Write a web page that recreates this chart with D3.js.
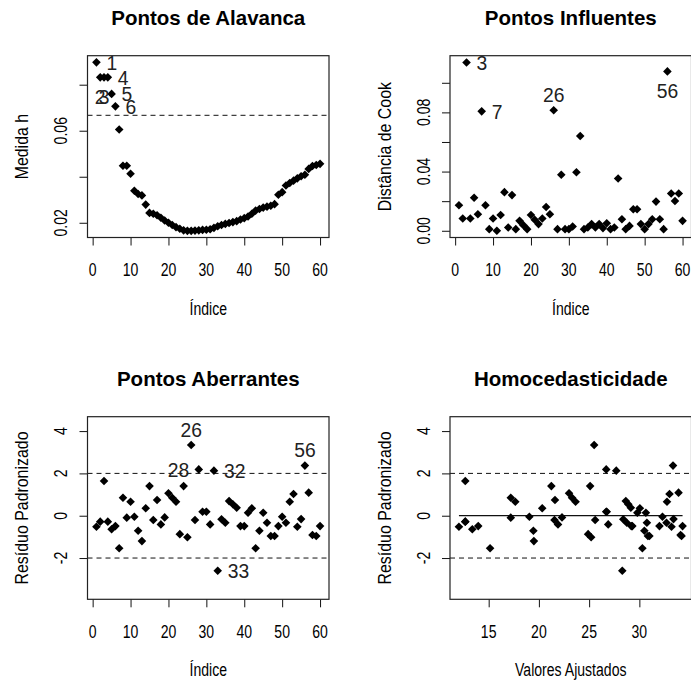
<!DOCTYPE html>
<html><head><meta charset="utf-8">
<script src="https://cdn.jsdelivr.net/npm/d3@7/dist/d3.min.js"></script>
<style>body{margin:0;background:#fff}svg{display:block}</style>
</head><body>
<svg id="c" width="691" height="687"></svg>
<script>
// ---------------- DATA ----------------
const index = [1,2,3,4,5,6,7,8,9,10,11,12,13,14,15,16,17,18,19,20,21,22,23,24,25,26,27,28,29,30,
  31,32,33,34,35,36,37,38,39,40,41,42,43,44,45,46,47,48,49,50,51,52,53,54,55,56,57,58,59,60];
const leverage = [0.0897,0.0832,0.0832,0.0832,0.0760,0.0706,0.0605,0.0448,0.0448,0.0413,
  0.0339,0.0325,0.0319,0.0279,0.0243,0.0239,0.0233,0.0222,0.0210,0.0200,
  0.0190,0.0181,0.0174,0.0167,0.0165,0.0165,0.0166,0.0167,0.0169,0.0170,
  0.0172,0.0178,0.0185,0.0190,0.0195,0.0199,0.0203,0.0207,0.0214,0.0220,
  0.0227,0.0239,0.0253,0.0260,0.0266,0.0270,0.0274,0.0281,0.0322,0.0333,
  0.0362,0.0373,0.0383,0.0393,0.0402,0.0409,0.0434,0.0447,0.0451,0.0456];
const cooksD = [0.0172,0.0083,0.1137,0.0083,0.0223,0.0112,0.0807,0.0172,0.0011,0.0083,
  0.0000,0.0107,0.0261,0.0022,0.0241,0.0011,0.0067,0.0038,0.0011,0.0107,
  0.0074,0.0045,0.0083,0.0161,0.0112,0.0814,0.0011,0.0379,0.0011,0.0011,
  0.0029,0.0395,0.0640,0.0011,0.0022,0.0045,0.0022,0.0045,0.0018,0.0051,
  0.0011,0.0022,0.0353,0.0078,0.0011,0.0033,0.0145,0.0145,0.0045,0.0011,
  0.0045,0.0078,0.0197,0.0078,0.0011,0.1077,0.0252,0.0201,0.0252,0.0067];
const stdResid = [-0.52,-0.28,1.64,-0.28,-0.64,-0.49,-1.54,0.85,-0.09,0.66,
  -0.05,-0.71,-1.20,0.35,1.40,-0.20,0.74,-0.41,-0.08,1.06,
  0.85,0.66,-0.87,1.40,-1.02,3.34,-0.20,2.19,0.19,0.19,
  -0.41,2.13,-2.60,-0.17,-0.33,0.69,0.54,0.38,-0.49,-0.49,
  0.14,0.35,-1.54,-0.71,0.14,-0.33,-0.96,-0.96,-0.49,-0.05,
  -0.33,0.66,1.03,-0.52,-0.16,2.37,1.09,-0.91,-0.96,-0.49];
const fitted = [12.04,12.67,12.67,12.67,13.37,13.96,15.14,17.20,17.20,17.65,
  19.05,19.45,19.50,20.33,21.24,21.55,21.60,21.90,22.30,23.00,
  23.30,23.65,24.90,25.10,25.20,25.50,25.60,26.70,26.70,26.75,
  26.90,27.70,28.30,28.40,28.75,28.65,28.90,29.15,29.20,29.30,
  29.80,30.05,30.30,30.50,30.65,30.75,30.85,31.00,32.00,32.30,
  32.70,32.75,33.00,33.20,33.40,33.35,33.90,34.10,34.20,34.30];
const leverageCut = 0.0667;
const residLimits = [-2, 2];
const indexTicks = [0,10,20,30,40,50,60];
const levTicks = [0.02,0.04,0.06,0.08];
const levTickLabels = ["0.02","","0.06",""];
const cookTicks = [0,0.02,0.04,0.06,0.08,0.10];
const cookTickLabels = ["0.00","","0.04","","0.08",""];
const residTicks = [-2,0,2,4];
const residTickLabels = ["-2","0","2","4"];
const fittedTicks = [15,20,25,30];
const fittedTickLabels = ["15","20","25","30"];
// labelled observations (id, R-style position: 1 below, 2 left, 3 above, 4 right)
const levLabelIds = [1,2,3,4,5,6];   const levLabelPos = [4,1,1,4,4,4];
const cookLabelIds = [3,7,26,56];    const cookLabelPos = [4,4,3,1];
const residLabelIds = [26,28,32,33,56]; const residLabelPos = [3,2,4,4,3];

// ---------------- LAYOUT ----------------
const svg = d3.select("#c");
const col = [{l:87.5,r:329},{l:450,r:691.5}];
const row = [{t:55.7,b:237.5},{t:416.7,b:599.3}];
const F = "'Liberation Sans', Arial, sans-serif";

function txt(g, s, x, y, o) {
  o = o || {};
  const t = g.append("text").text(s)
    .attr("transform", `translate(${x},${y}) rotate(${o.rot||0}) scale(${o.sx||1},1)`)
    .attr("font-family", F).attr("font-size", o.fs||19)
    .attr("font-weight", o.bold ? "bold" : "normal")
    .attr("text-anchor", o.anchor||"middle")
    .attr("fill", o.fill||"#000");
  return t;
}
const diamond = "M0,-4.3L4.3,0L0,4.3L-4.3,0Z";

function panel(ci, ri, xs, ys, opt) {
  const L = col[ci].l, R = col[ci].r, T = row[ri].t, B = row[ri].b;
  const x = d3.scaleLinear().domain(xs).range([L, R]);
  const y = d3.scaleLinear().domain(ys).range([B, T]);
  const g = svg.append("g");
  const cx = (L + R) / 2, cy = (T + B) / 2;
  // title
  txt(g, opt.title, cx, T - 30.5, {fs:20.5, bold:true});
  // x axis
  const xa = g.append("g").attr("transform", `translate(0,${B})`)
    .call(d3.axisBottom(x).tickValues(opt.xTicks).tickFormat(() => "").tickSize(8).tickSizeOuter(0));
  xa.select(".domain").remove();
  xa.selectAll("line").attr("stroke", "#111");
  opt.xTicks.forEach((v, k) => txt(g, opt.xTickLabels[k], x(v), B + 38.5, {fs:19, sx:0.74}));
  txt(g, opt.xLabel, cx, B + 77, {fs:19, sx:0.74});
  // y axis
  const ya = g.append("g").attr("transform", `translate(${L},0)`)
    .call(d3.axisLeft(y).tickValues(opt.yTicks).tickFormat(() => "").tickSize(8).tickSizeOuter(0));
  ya.select(".domain").remove();
  ya.selectAll("line").attr("stroke", "#111");
  opt.yTicks.forEach((v, k) => { if (opt.yTickLabels[k]) txt(g, opt.yTickLabels[k], L - 20.5, y(v), {fs:19, sx:0.74, rot:-90}); });
  txt(g, opt.yLabel, L - 59.2, cy, {fs:18.5, sx:0.86, rot:-90});
  // reference lines
  (opt.dashed || []).forEach(v => g.append("line")
    .attr("x1", L).attr("x2", R).attr("y1", y(v)).attr("y2", y(v))
    .attr("stroke", "#111").attr("stroke-width", 1).attr("stroke-dasharray", "5,4"));
  if (opt.solid) g.append("line")
    .attr("x1", x(opt.solid[0])).attr("x2", x(opt.solid[1])).attr("y1", y(0)).attr("y2", y(0))
    .attr("stroke", "#111").attr("stroke-width", 1.3);
  // box
  g.append("rect").attr("x", L).attr("y", T).attr("width", R - L).attr("height", B - T)
    .attr("fill", "none").attr("stroke", "#222").attr("stroke-width", 1.2);
  // points
  g.append("g").selectAll("path").data(opt.xv.map((d, k) => [d, opt.yv[k]])).join("path")
    .attr("d", diamond).attr("transform", d => `translate(${x(d[0])},${y(d[1])})`).attr("fill", "#000");
  // labels
  (opt.labIds || []).forEach((id, k) => {
    const px = x(opt.xv[id - 1]), py = y(opt.yv[id - 1]), p = opt.labPos[k];
    let tx = px, ty = py + 7.5, an = "middle";
    if (p === 4) { tx = px + 10; an = "start"; }
    if (p === 2) { tx = px - 9.5; an = "end"; }
    if (p === 3) { ty = py - 8.5; }
    if (p === 1) { ty = py + 27; }
    txt(g, String(id), tx, ty, {fs:21, sx:0.92, anchor:an, fill:"#222"});
  });
}

panel(0, 0, [-1.36, 62.36], [0.0136, 0.0926], {
  title:"Pontos de Alavanca", xLabel:"Índice", yLabel:"Medida h",
  xTicks:indexTicks, xTickLabels:indexTicks.map(String), yTicks:levTicks, yTickLabels:levTickLabels,
  xv:index, yv:leverage, dashed:[leverageCut], labIds:levLabelIds, labPos:levLabelPos });
panel(1, 0, [-1.36, 62.36], [-0.00455, 0.1183], {
  title:"Pontos Influentes", xLabel:"Índice", yLabel:"Distância de Cook",
  xTicks:indexTicks, xTickLabels:indexTicks.map(String), yTicks:cookTicks, yTickLabels:cookTickLabels,
  xv:index, yv:cooksD, labIds:cookLabelIds, labPos:cookLabelPos });
panel(0, 1, [-1.36, 62.36], [-3.95, 4.68], {
  title:"Pontos Aberrantes", xLabel:"Índice", yLabel:"Resíduo Padronizado",
  xTicks:indexTicks, xTickLabels:indexTicks.map(String), yTicks:residTicks, yTickLabels:residTickLabels,
  xv:index, yv:stdResid, dashed:residLimits, labIds:residLabelIds, labPos:residLabelPos });
panel(1, 1, [11.15, 35.19], [-3.95, 4.68], {
  title:"Homocedasticidade", xLabel:"Valores Ajustados", yLabel:"Resíduo Padronizado",
  xTicks:fittedTicks, xTickLabels:fittedTickLabels, yTicks:residTicks, yTickLabels:residTickLabels,
  xv:fitted, yv:stdResid, dashed:residLimits, solid:[d3.min(fitted), d3.max(fitted)] });
</script>
</body></html>
